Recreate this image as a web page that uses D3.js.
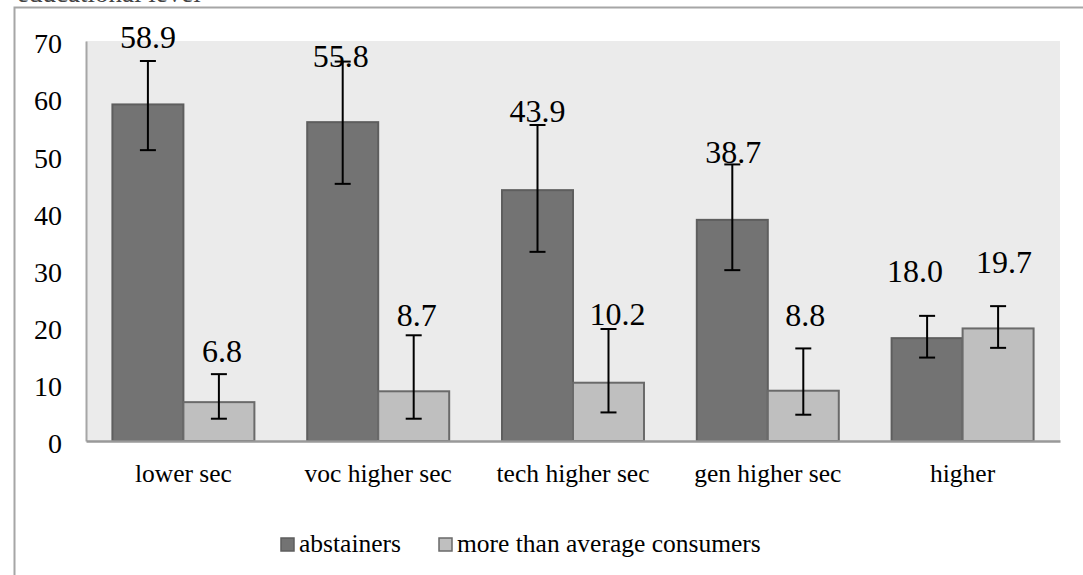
<!DOCTYPE html>
<html>
<head>
<meta charset="utf-8">
<script src="https://cdn.jsdelivr.net/npm/d3@7"></script>
<style>
  html, body { margin: 0; padding: 0; background: #fff; }
  svg { display: block; }
  svg text { font-family: "Liberation Serif", "Times New Roman", serif !important; fill: #000; }
</style>
</head>
<body>
<div id="chart"></div>
<script>
// ---------- data ----------
const categories = ["lower sec", "voc higher sec", "tech higher sec", "gen higher sec", "higher"];
const seriesNames = ["abstainers", "more than average consumers"];
const abstainers = [58.9, 55.8, 43.9, 38.7, 18.0];
const moreThanAverage = [6.8, 8.7, 10.2, 8.8, 19.7];
const abstainersLow = [50.9, 45.0, 33.1, 29.9, 14.6];
const abstainersHigh = [66.5, 66.4, 55.3, 48.4, 21.9];
const moreLow = [3.9, 3.9, 5.0, 4.6, 16.3];
const moreHigh = [11.7, 18.5, 19.6, 16.2, 23.6];
const yTicks = [0, 10, 20, 30, 40, 50, 60, 70];
const titleText = "educational level";

// ---------- layout ----------
const W = 1083, H = 575;
const plot = { left: 86, right: 1060, top: 41, bottom: 441 };
const colors = ["#737373", "#bfbfbf"];
const strokes = ["#5e5e5e", "#6a6a6a"];
// manual label nudges (px) relative to bar centre / bar top, as in reference
const labelNudge = [
  [[0, -56], [-2, -55], [0, -68], [1, -57], [-12, -56]],
  [[3, -40], [3, -65], [9, -58], [2, -65], [6, -55]]
];

const svg = d3.select("#chart").append("svg")
  .attr("width", W).attr("height", H);

// clipped title at very top (cut off in the reference as well)
svg.append("text")
  .attr("x", 17).attr("y", 2)
  .attr("font-size", 27)
  .style("fill", "#444")
  .text(titleText);

// outer chart frame
svg.append("path")
  .attr("d", `M14.5,${H} L14.5,7.5 L${W},7.5`)
  .attr("fill", "none").attr("stroke", "#a6a6a6").attr("stroke-width", 2);

// plot background
svg.append("rect")
  .attr("x", plot.left).attr("y", plot.top)
  .attr("width", plot.right - plot.left).attr("height", plot.bottom - plot.top)
  .attr("fill", "#ebebeb");

const x0 = d3.scaleBand().domain(categories).range([plot.left, plot.right]).padding(0);
const x1 = d3.scaleBand().domain([0, 1]).range([0, x0.bandwidth()]).paddingInner(0).paddingOuter(0.372);
const y = d3.scaleLinear().domain([0, 70]).range([plot.bottom, plot.top]);

const values = [abstainers, moreThanAverage];
const lows = [abstainersLow, moreLow];
const highs = [abstainersHigh, moreHigh];

const rows = [];
categories.forEach((c, i) => {
  [0, 1].forEach(s => rows.push({ c, i, s, v: values[s][i], lo: lows[s][i], hi: highs[s][i] }));
});

// bars
svg.append("g").selectAll("rect").data(rows).join("rect")
  .attr("x", d => x0(d.c) + x1(d.s))
  .attr("y", d => y(d.v))
  .attr("width", x1.bandwidth())
  .attr("height", d => y(0) - y(d.v))
  .attr("fill", d => colors[d.s])
  .attr("stroke", d => strokes[d.s])
  .attr("stroke-width", 2);

// axes
const yAxis = d3.axisLeft(y).tickValues(yTicks).tickSize(0).tickPadding(24).tickFormat(d3.format("d"));
const gy = svg.append("g").attr("transform", `translate(${plot.left},0)`).call(yAxis);
gy.select(".domain").attr("stroke", "#a6a6a6").attr("stroke-width", 2);
gy.selectAll("text").attr("font-size", 28).attr("dy", "0.42em");

const xAxis = d3.axisBottom(x0).tickSize(0).tickPadding(22);
const gx = svg.append("g").attr("transform", `translate(0,${plot.bottom})`).call(xAxis);
gx.select(".domain").attr("stroke", "#999").attr("stroke-width", 2.5);
gx.selectAll("text").attr("font-size", 25.5).attr("dy", "0.75em");

// error bars
const eb = svg.append("g").attr("stroke", "#000").attr("stroke-width", 2);
rows.forEach(d => {
  const cx = x0(d.c) + x1(d.s) + x1.bandwidth() / 2;
  eb.append("line").attr("x1", cx).attr("x2", cx).attr("y1", y(d.lo)).attr("y2", y(d.hi));
  eb.append("line").attr("x1", cx - 8).attr("x2", cx + 8).attr("y1", y(d.lo)).attr("y2", y(d.lo));
  eb.append("line").attr("x1", cx - 8).attr("x2", cx + 8).attr("y1", y(d.hi)).attr("y2", y(d.hi));
});

// data labels
svg.append("g").selectAll("text").data(rows).join("text")
  .attr("x", d => x0(d.c) + x1(d.s) + x1.bandwidth() / 2 + labelNudge[d.s][d.i][0])
  .attr("y", d => y(d.v) + labelNudge[d.s][d.i][1])
  .attr("text-anchor", "middle")
  .attr("font-size", 32)
  .text(d => d3.format(".1f")(d.v));

// legend
const legendX = [281, 439];
const lg = svg.append("g");
seriesNames.forEach((n, s) => {
  lg.append("rect").attr("x", legendX[s]).attr("y", 538).attr("width", 13).attr("height", 13)
    .attr("fill", colors[s]).attr("stroke", strokes[s]).attr("stroke-width", 1.5);
  lg.append("text").attr("x", legendX[s] + 18).attr("y", 552).attr("font-size", 25.5).text(n);
});
</script>
</body>
</html>
